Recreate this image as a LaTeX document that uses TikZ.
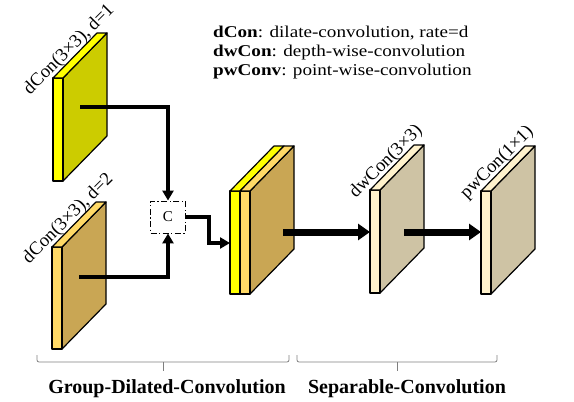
\documentclass[tikz,border=0pt]{standalone}
\usepackage{fontspec}
\setmainfont{Liberation Serif}
\usetikzlibrary{arrows.meta}

\definecolor{ylw}{HTML}{FFFF00}
\definecolor{olive}{HTML}{CCCC00}
\definecolor{gold}{HTML}{FFD966}
\definecolor{tan}{HTML}{C9A654}
\definecolor{cream}{HTML}{FFF2CC}
\definecolor{khaki}{HTML}{CEC3A4}
\definecolor{bracegray}{HTML}{7F7F7F}

% slab: #1 left x, #2 top y, #3 bottom y, #4 strip colour, #5 face colour
\newcommand\slabbox[5]{%
  \filldraw[fill=#5, slabline] (#1+10,#2) -- ++(44,-45) -- ++(0,{#3-#2}) -- ++(-44,45) -- cycle;
  \filldraw[fill=#4, slabline] (#1,#2) rectangle (#1+10,#3);
  \filldraw[fill=#4, slabline] (#1,#2) -- ++(10,0) -- ++(44,-45) -- ++(-10,0) -- cycle;
}

\tikzset{
  slabline/.style={draw=black, line width=1.2pt, line join=round},
  thinarrow/.style={line width=3.2pt, -{Triangle[width=11pt,length=10pt]}},
  thickarrow/.style={line width=7pt, -{Triangle[width=16pt,length=12pt]}},
  slablabel/.style={anchor=south, rotate=45, inner sep=1pt, font=\fontsize{18.5}{18.5}\selectfont},
  legend/.style={anchor=base west, inner sep=0pt, font=\fontsize{16.5}{18}\selectfont},
  cbox/.style={draw, line width=0.9pt, dash pattern=on 6pt off 2.5pt on 1.2pt off 2.5pt,
    minimum width=35pt, minimum height=32pt, inner sep=0pt, font=\fontsize{15}{15}\selectfont},
  bracket/.style={draw=bracegray, line width=0.8pt, rounded corners=2pt},
  grouplabel/.style={anchor=base, inner sep=0pt, font=\fontsize{20}{20}\selectfont\bfseries},
}

\begin{document}
\begin{tikzpicture}[x=1pt, y=-1pt]
\useasboundingbox (0,0) rectangle (574,402);

% dilated convolution d=1
\slabbox{53}{78}{181}{ylw}{olive}
\node[slablabel] (l1) at (76,56.5) {dCon(3\texttimes3), d=1};
\coordinate (s1c) at (80,107);

% dilated convolution d=2
\slabbox{52}{247}{349}{gold}{tan}
\node[slablabel] (l2) at (75,225.5) {dCon(3\texttimes3), d=2};
\coordinate (s2c) at (79,277);

% concatenated slab
\filldraw[fill=tan, slabline] (250,191) -- ++(44,-45) -- ++(0,103) -- ++(-44,45) -- cycle;
\filldraw[fill=ylw, slabline] (230,191) rectangle (240,294);
\filldraw[fill=gold, slabline] (240,191) rectangle (250,294);
\filldraw[fill=ylw, slabline] (230,191) -- ++(10,0) -- ++(44,-45) -- ++(-10,0) -- cycle;
\filldraw[fill=gold, slabline] (240,191) -- ++(10,0) -- ++(44,-45) -- ++(-10,0) -- cycle;
\coordinate (s3in) at (230,243);
\coordinate (s3c) at (283,232);

% depth-wise convolution
\slabbox{370}{190}{293}{cream}{khaki}
\node[slablabel] (l4) at (393,168.5) {dwCon(3\texttimes3)};
\coordinate (s4in) at (370,232);
\coordinate (s4c) at (404,232);

% point-wise convolution
\slabbox{481}{191}{294}{cream}{khaki}
\node[slablabel] (l5) at (504,169.5) {pwCon(1\texttimes1)};
\coordinate (s5in) at (481,232);

% concatenation
\node[cbox] (C) at (168,217) {C};

% connectors
\draw[thinarrow] (s1c) -| (C.north);
\draw[thinarrow] (s2c) -| (C.south);
\draw[thinarrow] (C.east) -- ++(23,0) |- (s3in);
\draw[thickarrow] (s3c) -- (s4in);
\draw[thickarrow] (s4c) -- (s5in);

% legend
\node[legend] (k1) at (213,37) {\scalebox{1.16}[1]{\textbf{dCon}: dilate-convolution, rate=d}};
\node[legend] (k2) at (213,56) {\scalebox{1.16}[1]{\textbf{dwCon}: depth-wise-convolution}};
\node[legend] (k3) at (213,75) {\scalebox{1.16}[1]{\textbf{pwConv}: point-wise-convolution}};

% group brackets
\draw[bracket] (37,355) |- (289,362) -- (289,355);
\draw[bracegray, line width=0.8pt] (163,362) -- (163,371);
\draw[bracket] (297,355) |- (497,362) -- (497,355);
\draw[bracegray, line width=0.8pt] (397,362) -- (397,371);
\node[grouplabel] (g1) at (167,393) {Group-Dilated-Convolution};
\node[grouplabel] (g2) at (407,393) {Separable-Convolution};
\end{tikzpicture}
\end{document}
